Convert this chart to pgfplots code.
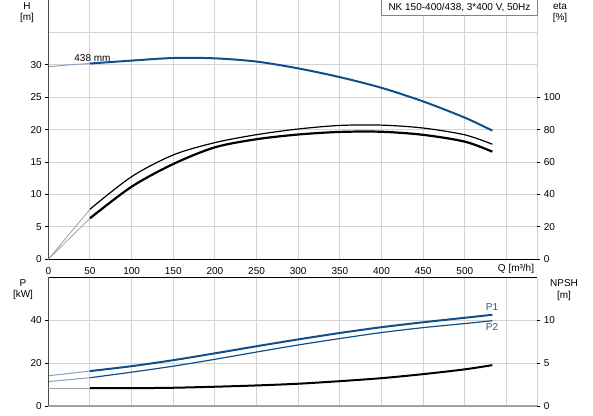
\documentclass[border=0pt]{standalone}
\usepackage{fontspec}
\setmainfont{Liberation Sans}
\usepackage{pgfplots}
\pgfplotsset{compat=1.18}
\definecolor{pblue}{RGB}{16,78,140}
\definecolor{lblue}{RGB}{140,160,185}
\definecolor{gridc}{RGB}{212,212,212}
\definecolor{axgray}{RGB}{130,130,130}
\definecolor{lgray}{RGB}{160,160,160}
\begin{document}
\begin{tikzpicture}
\path[use as bounding box] (0pt,0pt) rectangle (593pt,415pt);
\pgfplotsset{
  every axis/.append style={
    scale only axis, width=489pt, xmin=0, xmax=587,
    /pgf/number format/assume math mode=true,
    tick label style={font=\fontsize{10}{12}\selectfont},
    tick align=outside, major tick length=3pt,
    axis line style={draw=none},
    major grid style={draw=gridc, line width=1pt},
    tick style={black, line width=0.8pt},
  },
}
% ---------- top: H ----------
\begin{axis}[
  at={(48.3pt,155.7pt)}, anchor=south west, height=259.3pt,
  ymin=0, ymax=40,
  xtick={0,50,...,550},
  xticklabels={0,50,100,150,200,250,300,350,400,450,500,},
  xtick style={draw=none},
  ytick={0,5,...,30}, ytick pos=left,
  extra y ticks={35,40}, extra y tick labels={},
  extra y tick style={grid=major, tick style={draw=none}},
  grid=major,
  xticklabel style={yshift=-2pt},
]
\addplot[lblue, line width=1pt] coordinates {(0,29.7)(25,30.0)(50,30.2)};
\addplot[pblue, line width=2pt, smooth] coordinates {
 (50,30.2)(100,30.65)(150,31.05)(200,31.0)(250,30.5)(300,29.45)(350,28.1)(400,26.45)(450,24.35)(500,21.85)(533,19.85)};
\draw[black, line width=1pt] (rel axis cs:0,1) -- (rel axis cs:0,0) -- (rel axis cs:1,0);
\draw[axgray, line width=1.5pt] (rel axis cs:1,0) -- (rel axis cs:1,1);
\end{axis}
% ---------- top: eta ----------
\begin{axis}[
  at={(48.3pt,155.7pt)}, anchor=south west, height=259.3pt,
  ymin=0, ymax=160,
  hide x axis,
  ytick={0,20,...,100}, ytick pos=right, yticklabel pos=right,
]
\addplot[lgray, line width=0.8pt] coordinates {(0,0)(50,30.9)};
\addplot[lgray, line width=0.8pt] coordinates {(0,0)(50,25.3)};
\addplot[black, line width=1.2pt, smooth] coordinates {
 (50,30.9)(100,51.0)(150,64.4)(200,72.0)(250,76.9)(300,80.4)(350,82.6)(400,82.8)(450,81.0)(500,76.8)(533,71.0)};
\addplot[black, line width=2.2pt, smooth] coordinates {
 (50,25.3)(100,44.8)(150,58.8)(200,69.1)(250,74.1)(300,77.0)(350,78.6)(400,78.7)(450,76.8)(500,72.6)(533,66.4)};
\end{axis}
% ---------- bottom: P ----------
\begin{axis}[
  at={(48.3pt,9pt)}, anchor=south west, height=128.5pt,
  ymin=0, ymax=60,
  xtick={0,50,...,550}, xticklabels={}, xtick style={draw=none},
  ytick={0,20,40}, ytick pos=left,
  grid=major,
]
\addplot[lblue, line width=1pt] coordinates {(0,14.1)(50,16.3)};
\addplot[lblue, line width=1pt] coordinates {(0,11.4)(50,13.2)};
\addplot[pblue, line width=2pt, smooth] coordinates {
 (50,16.3)(100,18.6)(150,21.4)(200,24.6)(250,27.9)(300,31.1)(350,34.1)(400,36.8)(450,39.1)(500,41.2)(533,42.6)};
\addplot[pblue, line width=1.2pt, smooth] coordinates {
 (50,13.2)(100,15.8)(150,18.6)(200,21.8)(250,25.2)(300,28.5)(350,31.5)(400,34.3)(450,36.6)(500,38.5)(533,39.8)};
\draw[black, line width=1pt] (rel axis cs:0,0) -- (rel axis cs:0,1) -- (rel axis cs:1,1);
\draw[axgray, line width=1.5pt] (rel axis cs:1,1) -- (rel axis cs:1,0);
\draw[lgray, line width=1.5pt] (rel axis cs:0,0) -- (rel axis cs:1,0);
\end{axis}
% ---------- bottom: NPSH ----------
\begin{axis}[
  at={(48.3pt,9pt)}, anchor=south west, height=128.5pt,
  ymin=0, ymax=15,
  hide x axis,
  ytick={0,5,10}, ytick pos=right, yticklabel pos=right,
]
\addplot[lgray, line width=1.2pt] coordinates {(0,2.08)(50,2.08)};
\addplot[black, line width=2pt, smooth] coordinates {
 (50,2.08)(100,2.08)(150,2.13)(200,2.25)(250,2.4)(300,2.6)(350,2.9)(400,3.25)(450,3.72)(500,4.28)(533,4.77)};
\end{axis}
% ---------- texts ----------
\begin{scope}[x=1pt, y=1pt, every node/.style={font=\fontsize{10}{12}\selectfont, inner sep=0pt}]
\node at (27,409) {H};
\node at (27,397) {[m]};
\node at (560,409) {eta};
\node at (560,397) {[\%]};
\node at (516,146) {Q [m³/h]};
\node at (23,132) {P};
\node at (23,120) {[kW]};
\node at (564,132) {NPSH};
\node at (564,119) {[m]};
\node at (92.5,356.5) {438 mm};
\node[text=pblue!80!gray] at (492,108) {P1};
\node[text=pblue!80!gray] at (492,88) {P2};
\draw[axgray, line width=0.8pt, fill=white] (381.7,415.5) -- (381.7,400) -- (537.3,400) -- (537.3,415.5);
\node at (459.5,407.5) {NK 150-400/438, 3*400 V, 50Hz};
\end{scope}
\end{tikzpicture}
\end{document}
